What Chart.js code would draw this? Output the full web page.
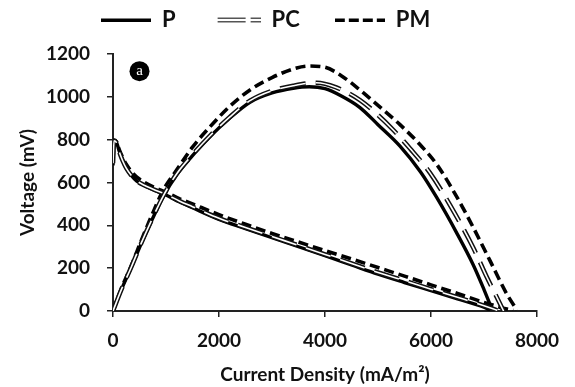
<!DOCTYPE html>
<html>
<head>
<meta charset="utf-8">
<script src="https://cdn.jsdelivr.net/npm/chart.js@4/dist/chart.umd.min.js"></script>
<style>
html,body{margin:0;padding:0;background:#fff;}
#wrap{width:575px;height:387px;}
</style>
</head>
<body>
<div id="wrap"><canvas id="c" width="575" height="387"></canvas></div>
<script>
// ---- data ----
const seriesNames = ['P', 'PC', 'PM'];
const xTickValues = [0, 2000, 4000, 6000, 8000];
const yTickValues = [0, 200, 400, 600, 800, 1000, 1200];
const xTitle = 'Current Density (mA/m\u00B2)';
const yTitle = 'Voltage (mV)';
const panelLabel = 'a';
const panelLabelAt = [500, 1120];

// polarization curves (current density, voltage)
const currentP_pol  = [0, 20, 60, 120, 180, 250, 350, 450, 600, 800, 1000, 1250, 1500, 2000, 2500, 3000, 3500, 4000, 4500, 5000, 5500, 6000, 6500, 7000, 7120];
const voltageP      = [680, 795, 790, 745, 705, 668, 632, 606, 585, 562, 542, 510, 482, 428, 385, 342, 300, 258, 215, 172, 133, 95, 57, 18, 3];
const currentPC_pol = [0, 20, 60, 120, 180, 250, 350, 450, 600, 800, 1000, 1250, 1500, 2000, 2500, 3000, 3500, 4000, 4500, 5000, 5500, 6000, 6500, 7000, 7250];
const voltagePC     = [690, 795, 788, 742, 703, 667, 632, 607, 586, 564, 545, 514, 487, 433, 390, 348, 306, 264, 222, 180, 141, 102, 64, 25, 3];
const currentPM_pol = [0, 20, 60, 120, 180, 250, 350, 450, 600, 800, 1000, 1250, 1500, 2000, 2500, 3000, 3500, 4000, 4500, 5000, 5500, 6000, 6500, 7000, 7300, 7550];
const voltagePM     = [700, 798, 792, 752, 718, 685, 650, 625, 600, 575, 555, 525, 500, 450, 405, 362, 322, 282, 243, 203, 163, 122, 82, 40, 18, 3];

// power density curves (current density, power)
const currentP_pow  = [0, 150, 350, 535, 720, 950, 1200, 1500, 1830, 2200, 2585, 3000, 3400, 3700, 4000, 4300, 4660, 5000, 5415, 5800, 6107, 6484, 6798, 7000, 7150];
const powerP        = [0, 95, 207, 316, 417, 535, 635, 725, 814, 900, 975, 1018, 1040, 1047, 1038, 1005, 950, 870, 770, 650, 530, 365, 215, 100, 8];
const currentPC_pow = [0, 150, 350, 535, 720, 950, 1200, 1500, 1830, 2200, 2585, 3000, 3400, 3843, 4200, 4660, 5000, 5289, 5600, 5981, 6358, 6798, 7050, 7200, 7370];
const powerPC       = [0, 95, 208, 318, 420, 538, 640, 730, 818, 905, 982, 1028, 1052, 1066, 1045, 985, 915, 845, 760, 645, 495, 295, 160, 85, 0];
const currentPM_pow = [0, 150, 350, 535, 720, 950, 1200, 1500, 1830, 2200, 2585, 3000, 3465, 3700, 4000, 4300, 4660, 5000, 5415, 5800, 6107, 6484, 6798, 7113, 7429, 7620];
const powerPM       = [0, 100, 215, 330, 440, 565, 658, 765, 860, 955, 1032, 1090, 1135, 1144, 1138, 1100, 1032, 960, 870, 775, 685, 534, 390, 235, 80, 5];

// ---- helpers ----
const pts = (xs, ys) => xs.map((x, i) => ({x: x, y: ys[i]}));
const FONT = 'Lato, "Open Sans", "DejaVu Sans", sans-serif';
const INK = '#111111';

function legendImage(kind) {
  const c = document.createElement('canvas');
  c.width = 50; c.height = 10;
  const g = c.getContext('2d');
  if (kind === 'solid') {
    g.fillStyle = '#000';
    g.fillRect(0, 3.5, 50, 3.5);
  } else if (kind === 'double') {
    const segs = [[7, 35], [40, 50]];
    segs.forEach(s => {
      g.fillStyle = '#555';
      g.fillRect(s[0], 2.5, s[1] - s[0], 5);
      g.fillStyle = '#fff';
      g.fillRect(s[0], 4, s[1] - s[0], 2);
    });
  } else {
    g.fillStyle = '#000';
    for (let x = 0; x < 50; x += 14) g.fillRect(x, 3.5, Math.min(10, 50 - x), 3.5);
  }
  return c;
}
const legendImgs = [legendImage('solid'), legendImage('double'), legendImage('dashed')];

const common = {pointRadius: 0, pointHoverRadius: 0, fill: false, cubicInterpolationMode: 'monotone'};

const datasets = [
  Object.assign({label: 'PC inner pol', data: pts(currentPC_pol, voltagePC), borderColor: '#ffffff', borderWidth: 1.6, borderDash: [26, 10], order: 0}, common),
  Object.assign({label: 'PC inner pow', data: pts(currentPC_pow, powerPC), borderColor: '#ffffff', borderWidth: 1.6, borderDash: [26, 10], order: 0}, common),
  Object.assign({label: 'PC outer pol', data: pts(currentPC_pol, voltagePC), borderColor: '#111111', borderWidth: 4.6, borderDash: [26, 10], order: 1}, common),
  Object.assign({label: 'PC outer pow', data: pts(currentPC_pow, powerPC), borderColor: '#111111', borderWidth: 4.6, borderDash: [26, 10], order: 1}, common),
  Object.assign({label: 'P pol', data: pts(currentP_pol, voltageP), borderColor: '#000000', borderWidth: 3.4, order: 2}, common),
  Object.assign({label: 'P pow', data: pts(currentP_pow, powerP), borderColor: '#000000', borderWidth: 3.4, order: 2}, common),
  Object.assign({label: 'PM pol', data: pts(currentPM_pol, voltagePM), borderColor: '#000000', borderWidth: 3.6, borderDash: [10, 5], order: 3}, common),
  Object.assign({label: 'PM pow', data: pts(currentPM_pow, powerPM), borderColor: '#000000', borderWidth: 3.6, borderDash: [10, 5], order: 3}, common)
];

const placeLegend = {
  id: 'placeLegend',
  beforeDraw(chart) {
    const lg = chart.legend;
    if (!lg) return;
    lg.left = 66;
    lg.right = 575;
    lg.top = -26;
  }
};

const panelMark = {
  id: 'panelMark',
  afterDatasetsDraw(chart) {
    const {ctx, scales} = chart;
    const px = scales.x.getPixelForValue(panelLabelAt[0]);
    const py = scales.y.getPixelForValue(panelLabelAt[1]);
    ctx.save();
    ctx.beginPath();
    ctx.arc(px, py, 10, 0, Math.PI * 2);
    ctx.fillStyle = '#000';
    ctx.fill();
    ctx.fillStyle = '#fff';
    ctx.font = '15px "Liberation Serif", "DejaVu Serif", serif';
    ctx.textAlign = 'center';
    ctx.textBaseline = 'middle';
    ctx.fillText(panelLabel, px, py);
    ctx.restore();
  }
};

const plainTick = v => String(v);

new Chart(document.getElementById('c'), {
  type: 'line',
  data: {datasets: datasets},
  plugins: [placeLegend, panelMark],
  options: {
    responsive: false,
    animation: false,
    events: [],
    layout: {padding: {left: 0, right: 38, top: 14, bottom: 0}},
    plugins: {
      tooltip: {enabled: false},
      legend: {
        display: true,
        position: 'top',
        align: 'start',
        maxHeight: 40,
        labels: {
          usePointStyle: true,
          pointStyleWidth: 50,
          padding: 35,
          color: INK,
          font: {family: FONT, size: 22, weight: 'bold'},
          generateLabels: () => seriesNames.map((n, i) => ({
            text: n,
            pointStyle: legendImgs[i],
            fillStyle: '#000',
            strokeStyle: '#000',
            lineWidth: 0,
            fontColor: INK,
            hidden: false,
            datasetIndex: i
          }))
        }
      }
    },
    scales: {
      x: {
        type: 'linear',
        min: 0, max: 8000,
        afterBuildTicks: s => { s.ticks = xTickValues.map(v => ({value: v})); },
        afterFit: s => { s.height = 76; },
        ticks: {color: INK, font: {family: FONT, size: 19, weight: 'bold'}, padding: 12, maxRotation: 0, callback: plainTick},
        grid: {drawOnChartArea: false, drawTicks: true, tickLength: 6, color: '#222', lineWidth: 1.5},
        border: {display: true, color: '#222', width: 2},
        title: {display: true, text: xTitle, color: INK, font: {family: FONT, size: 19, weight: 'bold'}, padding: {top: 0, bottom: 1}}
      },
      y: {
        type: 'linear',
        min: 0, max: 1200,
        afterBuildTicks: s => { s.ticks = yTickValues.map(v => ({value: v})); },
        afterFit: s => { s.width = 113; },
        ticks: {color: INK, font: {family: FONT, size: 19, weight: 'bold'}, padding: 17, callback: plainTick},
        grid: {drawOnChartArea: false, drawTicks: true, tickLength: 6, color: '#222', lineWidth: 1.5},
        border: {display: true, color: '#222', width: 2},
        title: {display: true, text: yTitle, color: INK, font: {family: FONT, size: 19, weight: 'bold'}, padding: {top: 16, bottom: 0}}
      }
    }
  }
});
</script>
</body>
</html>
